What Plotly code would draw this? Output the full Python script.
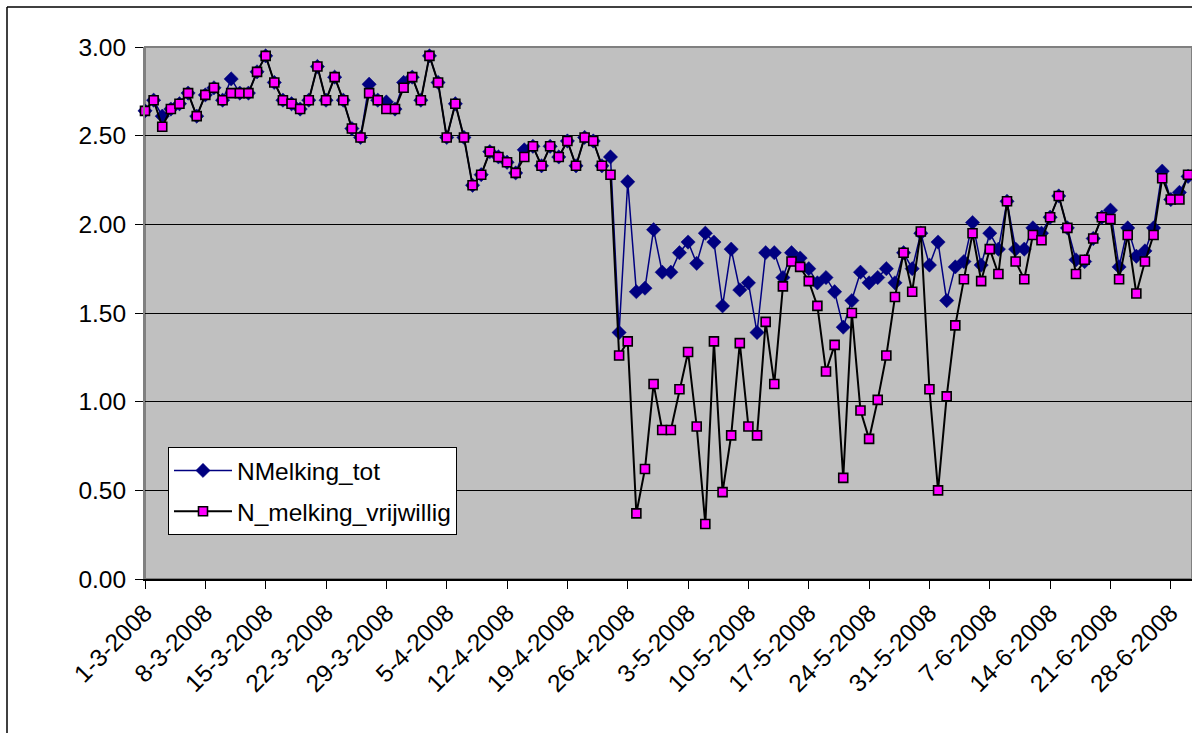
import pandas as pd
import plotly.graph_objects as go

# Daily milking counts, 1 March 2008 onwards
start_date = "2008-03-01"

n_melking_tot = [
    2.64, 2.70, 2.61, 2.65, 2.68, 2.74, 2.61, 2.73, 2.77, 2.70,
    2.82, 2.74, 2.74, 2.86, 2.95, 2.80, 2.70, 2.68, 2.65, 2.70,
    2.89, 2.70, 2.83, 2.70, 2.54, 2.49, 2.79, 2.70, 2.69, 2.65,
    2.80, 2.83, 2.70, 2.95, 2.80, 2.49, 2.68, 2.49, 2.22, 2.28,
    2.41, 2.38, 2.35, 2.29, 2.42, 2.44, 2.33, 2.44, 2.38, 2.47,
    2.33, 2.49, 2.47, 2.33, 2.38, 1.39, 2.24, 1.62, 1.64, 1.97,
    1.73, 1.73, 1.84, 1.90, 1.78, 1.95, 1.90, 1.54, 1.86, 1.63,
    1.67, 1.39, 1.84, 1.84, 1.70, 1.84, 1.81, 1.75, 1.67, 1.70,
    1.62, 1.42, 1.57, 1.73, 1.67, 1.70, 1.75, 1.67, 1.84, 1.75,
    1.95, 1.77, 1.90, 1.57, 1.76, 1.79, 2.01, 1.77, 1.95, 1.86,
    2.13, 1.86, 1.86, 1.98, 1.95, 2.04, 2.16, 1.98, 1.80, 1.79,
    1.92, 2.04, 2.08, 1.76, 1.98, 1.82, 1.85, 1.98, 2.30, 2.14,
    2.18, 2.27,
]

n_melking_vrijwillig = [
    2.64, 2.70, 2.55, 2.65, 2.68, 2.74, 2.61, 2.73, 2.77, 2.70,
    2.74, 2.74, 2.74, 2.86, 2.95, 2.80, 2.70, 2.68, 2.65, 2.70,
    2.89, 2.70, 2.83, 2.70, 2.54, 2.49, 2.74, 2.70, 2.65, 2.65,
    2.77, 2.83, 2.70, 2.95, 2.80, 2.49, 2.68, 2.49, 2.22, 2.28,
    2.41, 2.38, 2.35, 2.29, 2.38, 2.44, 2.33, 2.44, 2.38, 2.47,
    2.33, 2.49, 2.47, 2.33, 2.28, 1.26, 1.34, 0.37, 0.62, 1.10,
    0.84, 0.84, 1.07, 1.28, 0.86, 0.31, 1.34, 0.49, 0.81, 1.33,
    0.86, 0.81, 1.45, 1.10, 1.65, 1.79, 1.76, 1.68, 1.54, 1.17,
    1.32, 0.57, 1.50, 0.95, 0.79, 1.01, 1.26, 1.59, 1.84, 1.62,
    1.96, 1.07, 0.50, 1.03, 1.43, 1.69, 1.95, 1.68, 1.86, 1.72,
    2.13, 1.79, 1.69, 1.94, 1.91, 2.04, 2.16, 1.98, 1.72, 1.80,
    1.92, 2.04, 2.03, 1.69, 1.94, 1.61, 1.79, 1.94, 2.26, 2.14,
    2.14, 2.28,
]

dates = pd.date_range(start_date, periods=len(n_melking_tot), freq="D")

W, H = 1192, 733
ML, MT, MB, MR = 145, 47, 154, 0
PW, PH = W - ML - MR, H - MT - MB

FONT = "Liberation Sans, Arial, sans-serif"
FS = 24.5

fig = go.Figure()

fig.add_trace(go.Scatter(
    x=dates, y=n_melking_tot, name="NMelking_tot",
    mode="lines+markers", legendgroup="a", cliponaxis=False,
    line=dict(color="#000080", width=1.5),
    marker=dict(symbol="diamond", size=11, color="#000080",
                line=dict(color="#000080", width=0.5)),
))
fig.add_trace(go.Scatter(
    x=dates, y=n_melking_vrijwillig, name="N_melking_vrijwillig",
    mode="lines+markers", legendgroup="b", cliponaxis=False,
    line=dict(color="#000000", width=2),
    marker=dict(symbol="square", size=9, color="#FF00FF",
                line=dict(color="#000000", width=1.6)),
))

# Plot-area border and outer chart frame (pixel positions -> paper units)
def px_x(px):
    return (px - ML) / PW

def px_y(py):
    return (H - MB - py) / PH

shapes = [
    dict(type="rect", xref="paper", yref="paper", x0=0, y0=0, x1=1, y1=1,
         line=dict(color="#808080", width=2), layer="below"),
    dict(type="line", xref="paper", yref="paper",
         x0=px_x(7), x1=px_x(7), y0=px_y(7), y1=px_y(H + 5),
         line=dict(color="#000000", width=1.5)),
    dict(type="line", xref="paper", yref="paper",
         x0=px_x(7), x1=px_x(W + 5), y0=px_y(7), y1=px_y(7),
         line=dict(color="#000000", width=1.5)),
]

x_end = pd.Timestamp("2008-06-30") + pd.Timedelta(hours=11)

fig.update_layout(
    width=W, height=H,
    margin=dict(l=ML, r=MR, t=MT, b=MB, pad=0),
    paper_bgcolor="#FFFFFF",
    plot_bgcolor="#C0C0C0",
    font=dict(family=FONT, size=FS, color="#000000"),
    shapes=shapes,
    showlegend=True,
    legend=dict(
        x=px_x(168), y=px_y(447), xanchor="left", yanchor="top",
        bgcolor="#FFFFFF", bordercolor="#000000", borderwidth=1,
        font=dict(family=FONT, size=FS, color="#000000"),
        traceorder="grouped", tracegroupgap=6, itemwidth=58,
    ),
    xaxis=dict(
        type="date",
        range=[pd.Timestamp(start_date), x_end],
        tick0=start_date, dtick=7 * 24 * 3600 * 1000,
        tickformat="%-d-%-m-%Y", tickangle=-45,
        ticks="outside", ticklen=8, tickcolor="#000000", tickwidth=1,
        showgrid=False, zeroline=False,
        showline=True, linecolor="#000000", linewidth=1.5,
        tickfont=dict(family=FONT, size=FS, color="#000000"),
    ),
    yaxis=dict(
        range=[0, 3], dtick=0.5, tickformat=".2f",
        ticks="outside", ticklen=8, tickcolor="#000000", tickwidth=1,
        showgrid=True, gridcolor="#000000", gridwidth=1,
        zeroline=False,
        showline=True, linecolor="#808080", linewidth=2,
        tickfont=dict(family=FONT, size=FS, color="#000000"),
        ticklabelstandoff=4,
    ),
)

fig.write_html("out.html")
